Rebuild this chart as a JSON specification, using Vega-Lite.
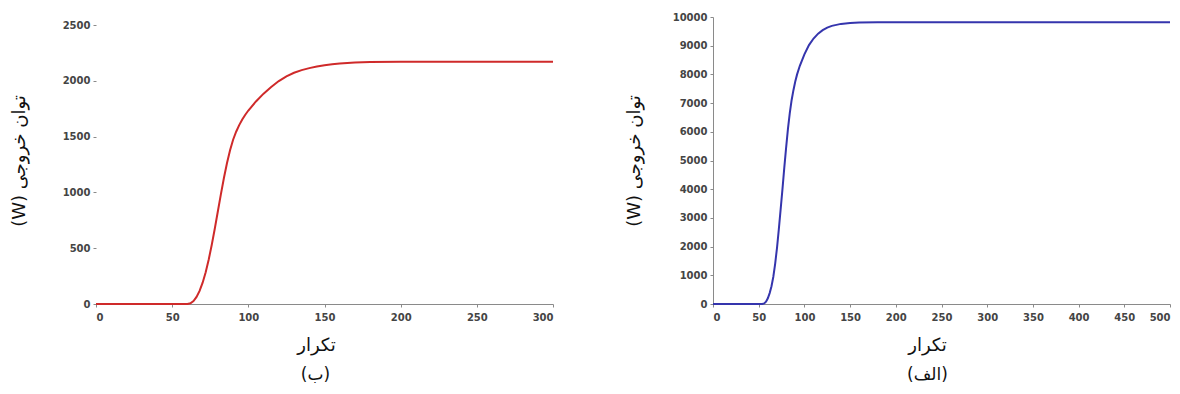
{
  "$schema": "https://vega.github.io/schema/vega-lite/v6.json",
  "background": "white",
  "padding": {"left": 10, "top": 12, "right": 0, "bottom": 0},
  "spacing": 68,
  "config": {
    "view": {"stroke": null},
    "axis": {
      "grid": false,
      "format": "d",
      "labelFont": "DejaVu Sans",
      "labelFontWeight": "bold",
      "labelFontSize": 10,
      "labelColor": "#444444",
      "domainColor": "#8a8a8a",
      "tickColor": "#8a8a8a",
      "tickSize": 3,
      "titleFont": "DejaVu Sans",
      "titleFontWeight": "normal",
      "titleFontSize": 18,
      "titleColor": "#111111"
    },
    "axisX": {"labelPadding": 5, "titlePadding": 14},
    "axisY": {"labelPadding": 3, "titlePadding": 34},
    "title": {"font": "DejaVu Sans", "fontSize": 17, "fontWeight": "normal", "color": "#111111", "orient": "bottom", "offset": 13}
  },
  "datasets": {
    "b": [
      {"iter": 0, "power": 0}, {"iter": 50, "power": 0}, {"iter": 58, "power": 0},
      {"iter": 60, "power": 1}, {"iter": 62, "power": 7}, {"iter": 64, "power": 27},
      {"iter": 66, "power": 63}, {"iter": 68, "power": 117}, {"iter": 70, "power": 191},
      {"iter": 72, "power": 285}, {"iter": 74, "power": 399}, {"iter": 76, "power": 531},
      {"iter": 78, "power": 677}, {"iter": 80, "power": 831}, {"iter": 82, "power": 985},
      {"iter": 84, "power": 1131}, {"iter": 86, "power": 1263}, {"iter": 88, "power": 1377},
      {"iter": 90, "power": 1472}, {"iter": 92, "power": 1544}, {"iter": 94, "power": 1603},
      {"iter": 96, "power": 1653}, {"iter": 98, "power": 1696}, {"iter": 100, "power": 1734},
      {"iter": 105, "power": 1815}, {"iter": 110, "power": 1885}, {"iter": 115, "power": 1945},
      {"iter": 120, "power": 1998}, {"iter": 125, "power": 2040}, {"iter": 130, "power": 2072},
      {"iter": 135, "power": 2096}, {"iter": 140, "power": 2114}, {"iter": 145, "power": 2128},
      {"iter": 150, "power": 2140}, {"iter": 155, "power": 2149}, {"iter": 160, "power": 2156},
      {"iter": 170, "power": 2164}, {"iter": 180, "power": 2168}, {"iter": 200, "power": 2170},
      {"iter": 250, "power": 2170}, {"iter": 300, "power": 2170}
    ],
    "alef": [
      {"iter": 0, "power": 0}, {"iter": 50, "power": 0}, {"iter": 54, "power": 0},
      {"iter": 56, "power": 20}, {"iter": 58, "power": 80}, {"iter": 60, "power": 200},
      {"iter": 62, "power": 380}, {"iter": 64, "power": 620}, {"iter": 66, "power": 950},
      {"iter": 68, "power": 1400}, {"iter": 70, "power": 1950}, {"iter": 72, "power": 2600},
      {"iter": 74, "power": 3300}, {"iter": 76, "power": 4000}, {"iter": 78, "power": 4750},
      {"iter": 80, "power": 5450}, {"iter": 82, "power": 6100}, {"iter": 84, "power": 6650},
      {"iter": 86, "power": 7100}, {"iter": 88, "power": 7450}, {"iter": 90, "power": 7750},
      {"iter": 92, "power": 8000}, {"iter": 95, "power": 8300}, {"iter": 100, "power": 8700},
      {"iter": 105, "power": 9020}, {"iter": 110, "power": 9250}, {"iter": 115, "power": 9420},
      {"iter": 120, "power": 9540}, {"iter": 125, "power": 9630}, {"iter": 130, "power": 9690},
      {"iter": 140, "power": 9760}, {"iter": 150, "power": 9795}, {"iter": 160, "power": 9810},
      {"iter": 180, "power": 9815}, {"iter": 200, "power": 9815}, {"iter": 300, "power": 9815},
      {"iter": 500, "power": 9815}
    ]
  },
  "hconcat": [
    {
      "width": 457,
      "height": 287,
      "title": {"text": "(ب)", "dx": -9},
      "layer": [
        {
          "mark": {"type": "rule", "color": "#8a8a8a", "strokeWidth": 1},
          "encoding": {
            "x": {"datum": 0, "type": "quantitative"},
            "y": {"datum": 0, "type": "quantitative"},
            "y2": {"datum": 2500}
          }
        },
        {
          "data": {"name": "b"},
          "mark": {"type": "line", "color": "#cf2a2a", "strokeWidth": 2},
          "encoding": {
            "x": {
              "field": "iter", "type": "quantitative",
              "scale": {"domain": [0, 300], "nice": false},
              "axis": {"title": "تکرار", "titleX": 220, "values": [0, 50, 100, 150, 200, 250, 300]}
            },
            "y": {
              "field": "power", "type": "quantitative",
              "scale": {"domain": [0, 2572], "nice": false},
              "axis": {"title": "(W) توان خروجی", "domain": false, "values": [0, 500, 1000, 1500, 2000, 2500]}
            }
          }
        }
      ]
    },
    {
      "width": 457,
      "height": 287,
      "title": {"text": "(الف)", "dx": -14},
      "data": {"name": "alef"},
      "mark": {"type": "line", "color": "#3535ad", "strokeWidth": 2},
      "encoding": {
        "x": {
          "field": "iter", "type": "quantitative",
          "scale": {"domain": [0, 500], "nice": false},
          "axis": {"title": "تکرار", "titleX": 214, "values": [0, 50, 100, 150, 200, 250, 300, 350, 400, 450, 500]}
        },
        "y": {
          "field": "power", "type": "quantitative",
          "scale": {"domain": [0, 10000], "nice": false},
          "axis": {"title": "(W) توان خروجی", "titlePadding": 29, "values": [0, 1000, 2000, 3000, 4000, 5000, 6000, 7000, 8000, 9000, 10000]}
        }
      }
    }
  ]
}
